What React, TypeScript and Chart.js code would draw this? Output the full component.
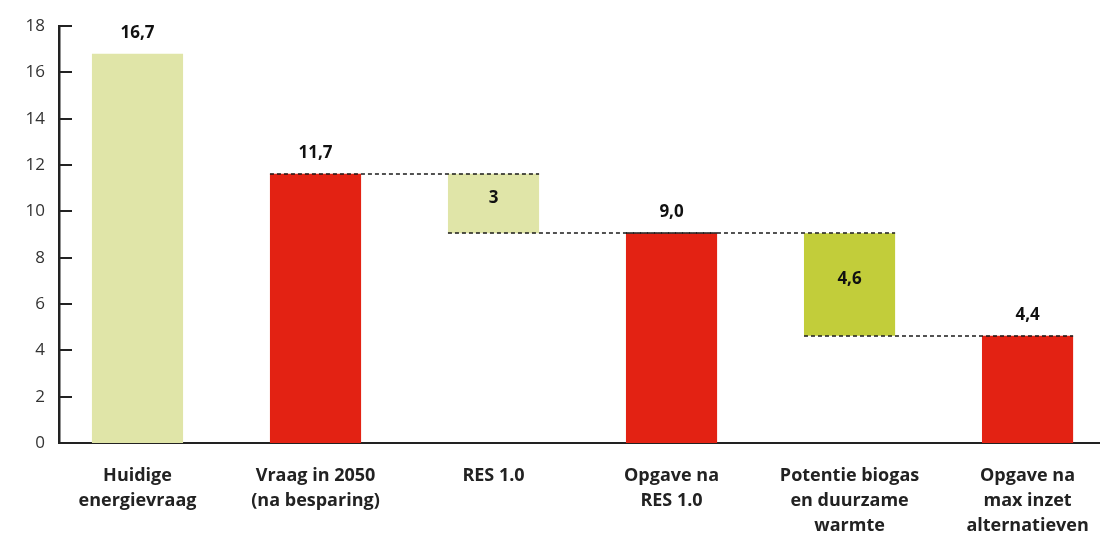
import { useEffect, useRef } from 'react';
import { Chart, registerables } from 'chart.js';
Chart.register(...registerables);

const categories: string[][] = [
  ['Huidige', 'energievraag'],
  ['Vraag in 2050', '(na besparing)'],
  ['RES 1.0'],
  ['Opgave na', 'RES 1.0'],
  ['Potentie biogas', 'en duurzame', 'warmte'],
  ['Opgave na', 'max inzet', 'alternatieven'],
];
const barStarts = [0, 0, 9.05, 0, 4.63, 0];
const barEnds = [16.8, 11.62, 11.62, 9.05, 9.05, 4.63];
const valueLabels = ['16,7', '11,7', '3', '9,0', '4,6', '4,4'];
const barColors = ['#e0e5a8', '#e32213', '#e0e5a8', '#e32213', '#c2cd3a', '#e32213'];
const yMin = 0;
const yMax = 18;
const yStep = 2;

const FONT = '"Open Sans", "Noto Sans", sans-serif';

const overlayPlugin = {
  id: 'overlay',
  afterDatasetsDraw(chart: any) {
    const ctx = chart.ctx;
    const meta = chart.getDatasetMeta(0);
    const y = chart.scales.y;
    const bars = meta.data;
    const isFloating = (i: number) => barStarts[i] > 0;
    ctx.save();
    ctx.strokeStyle = '#1a1a1a';
    ctx.lineWidth = 1.6;
    ctx.setLineDash([4, 3]);
    for (let i = 0; i < bars.length - 1; i++) {
      const a = bars[i];
      const b = bars[i + 1];
      const left = a.x - a.width / 2;
      const right = b.x + b.width / 2;
      const lines: number[] = [];
      if (isFloating(i + 1)) lines.push(barEnds[i + 1]);
      if (isFloating(i)) lines.push(barStarts[i]);
      lines.forEach((v) => {
        const py = Math.round(y.getPixelForValue(v));
        ctx.beginPath();
        ctx.moveTo(left, py);
        ctx.lineTo(right, py);
        ctx.stroke();
      });
    }
    ctx.setLineDash([]);
    ctx.fillStyle = '#111';
    ctx.font = `bold 17px ${FONT}`;
    ctx.textAlign = 'center';
    ctx.textBaseline = 'middle';
    bars.forEach((bar: any, i: number) => {
      let py;
      if (isFloating(i)) {
        py = (y.getPixelForValue(barStarts[i]) + y.getPixelForValue(barEnds[i])) / 2 - 5;
      } else {
        py = y.getPixelForValue(barEnds[i]) - 21;
      }
      ctx.fillText(valueLabels[i], bar.x, py);
    });
    ctx.restore();
  },
  afterDraw(chart: any) {
    const ctx = chart.ctx;
    const y = chart.scales.y;
    const left = chart.chartArea.left;
    ctx.save();
    ctx.strokeStyle = '#222';
    ctx.lineWidth = 2;
    y.ticks.forEach((t: any) => {
      if (t.value === yMin) return;
      const py = Math.round(y.getPixelForValue(t.value));
      ctx.beginPath();
      ctx.moveTo(left, py);
      ctx.lineTo(left + 13, py);
      ctx.stroke();
    });
    ctx.restore();
  },
};

export default function App() {
  const ref = useRef<HTMLCanvasElement>(null);
  useEffect(() => {
    if (!ref.current) return;
    const chart = new Chart(ref.current, {
      type: 'bar',
      data: {
        datasets: [
          {
            data: categories.map((_, i) => ({ x: i, y: [barStarts[i], barEnds[i]] })) as any,
            backgroundColor: barColors,
            borderWidth: 0,
            barPercentage: 0.512,
            categoryPercentage: 1,
          },
        ],
      },
      options: {
        animation: false,
        responsive: true,
        maintainAspectRatio: false,
        layout: { padding: { top: 26, left: 0, right: 0, bottom: 0 } },
        plugins: { legend: { display: false }, tooltip: { enabled: false } },
        scales: {
          x: {
            type: 'linear',
            offset: false,
            min: -0.441,
            max: 5.407,
            grid: { display: false, drawTicks: false },
            border: { display: true, color: '#222', width: 2 },
            ticks: {
              stepSize: 1,
              includeBounds: false,
              autoSkip: false,
              maxRotation: 0,
              padding: 20,
              color: '#222',
              font: { family: FONT, size: 18, weight: 'bold', lineHeight: 1.39 },
              callback: (v: any) => {
                const i = Number(v);
                return Number.isInteger(i) && categories[i] ? categories[i] : '';
              },
            },
            afterFit: (axis: any) => {
              axis.height = 92;
              axis.paddingLeft = 0;
              axis.paddingRight = 0;
            },
          },
          y: {
            min: yMin,
            max: yMax,
            grid: { display: false, drawTicks: false },
            border: { display: true, color: '#222', width: 2.5 },
            ticks: {
              stepSize: yStep,
              padding: 14,
              color: '#333',
              font: { family: FONT, size: 17 },
            },
            afterFit: (axis: any) => {
              axis.width = 59;
            },
          },
        },
      },
      plugins: [overlayPlugin],
    });
    return () => chart.destroy();
  }, []);
  return (
    <div style={{ position: 'absolute', left: 0, top: 0, width: 1100, height: 535, background: '#fff' }}>
      <canvas ref={ref} />
    </div>
  );
}
